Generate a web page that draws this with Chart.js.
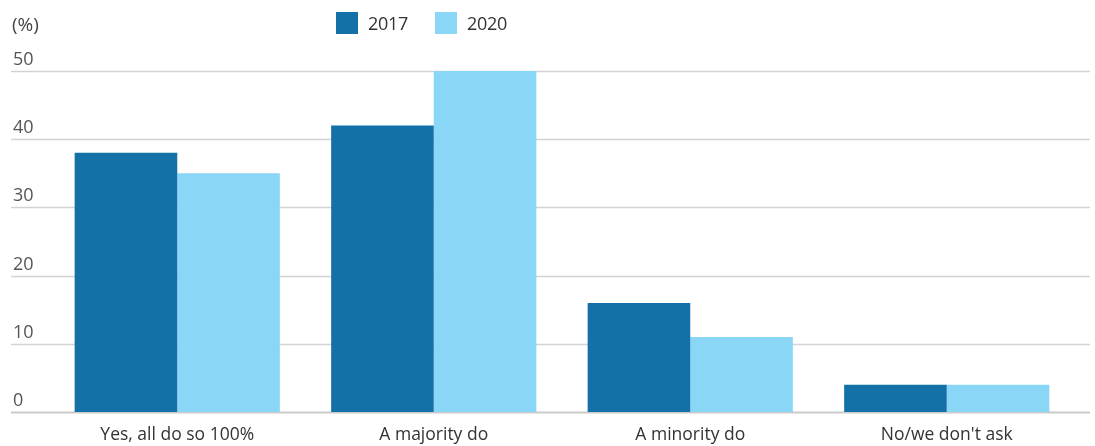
<!DOCTYPE html>
<html>
<head>
<meta charset="utf-8">
<script src="https://cdn.jsdelivr.net/npm/chart.js@4/dist/chart.umd.min.js"></script>
<style>
  html, body { margin: 0; padding: 0; background: #fff; }
  #wrap { position: relative; width: 1095px; height: 446px; }
  #legend { position: absolute; left: 336px; top: 11px; display: flex; font: 18px 'Open Sans', sans-serif; color: #333; letter-spacing: -0.3px; }
  #legend .item { display: flex; align-items: center; margin-right: 27px; }
  #legend .sw { width: 22px; height: 22px; margin-right: 10px; }
  #unit { position: absolute; left: 12px; top: 11px; font: 19px 'Open Sans', sans-serif; color: #444; }
</style>
</head>
<body>
<div id="wrap">
  <canvas id="chart" width="1095" height="446"></canvas>
  <div id="unit">(%)</div>
  <div id="legend"></div>
</div>
<script>
// data
const categories = ['Yes, all do so 100%', 'A majority do', 'A minority do', "No/we don't ask"];
const seriesNames = ['2017', '2020'];
const values2017 = [38, 42, 16, 4];
const values2020 = [35, 50, 11, 4];
const yTicks = [0, 10, 20, 30, 40, 50];

const colors = {
  dark: '#1371a8',
  light: '#89d6f6',
  grid: '#d3d3d3',
  tick: '#555',
  label: '#333',
};

const font = "'Open Sans', sans-serif";

// legend (html)
const legendEl = document.getElementById('legend');
[colors.dark, colors.light].forEach((c, i) => {
  const item = document.createElement('div');
  item.className = 'item';
  item.innerHTML = '<span class="sw" style="background:' + c + '"></span>' + seriesNames[i];
  legendEl.appendChild(item);
});

// gridlines + y labels drawn across full width, like the original
const fullGrid = {
  id: 'fullGrid',
  beforeDatasetsDraw(chart) {
    const { ctx } = chart;
    const y = chart.scales.y;
    ctx.save();
    yTicks.forEach(v => {
      const py = Math.round(y.getPixelForValue(v)) + 0.5;
      ctx.strokeStyle = v === 0 ? '#cacaca' : colors.grid;
      ctx.lineWidth = v === 0 ? 2 : 1.5;
      ctx.beginPath();
      ctx.moveTo(11, py);
      ctx.lineTo(1090, py);
      ctx.stroke();
      ctx.fillStyle = colors.tick;
      ctx.font = '18px ' + font;
      ctx.textBaseline = 'bottom';
      ctx.fillText(String(v), 13, py - 3);
    });
    ctx.restore();
  },
};

new Chart(document.getElementById('chart'), {
  type: 'bar',
  data: {
    labels: categories,
    datasets: [
      { label: seriesNames[0], data: values2017, backgroundColor: colors.dark },
      { label: seriesNames[1], data: values2020, backgroundColor: colors.light },
    ],
  },
  options: {
    responsive: false,
    animation: false,
    events: [],
    layout: { padding: { left: 49, right: 20, top: 71, bottom: 0 } },
    categoryPercentage: 0.8,
    barPercentage: 1.0,
    plugins: { legend: { display: false }, tooltip: { enabled: false } },
    scales: {
      x: {
        grid: { display: false },
        border: { display: false },
        ticks: { color: colors.label, font: { family: font, size: 17.5 }, padding: 5 },
        afterFit(scale) { scale.height = 34; },
      },
      y: {
        display: false,
        min: 0,
        max: 50,
      },
    },
  },
  plugins: [fullGrid],
});
</script>
</body>
</html>
